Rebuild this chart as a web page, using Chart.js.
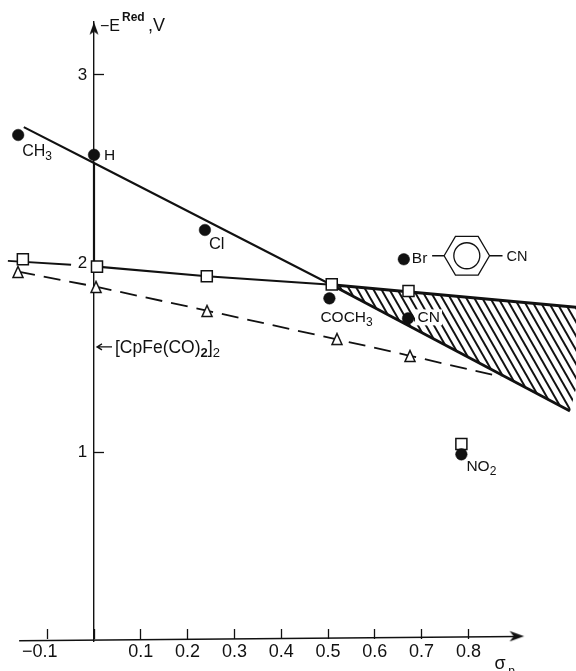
<!DOCTYPE html>
<html>
<head>
<meta charset="utf-8">
<style>html,body{margin:0;padding:0;background:#fff}canvas{display:block}</style>
<script src="https://cdn.jsdelivr.net/npm/chart.js@4/dist/chart.umd.min.js"></script>
</head>
<body>
<canvas id="c" width="576" height="671"></canvas>
<script>
// values (sigma_p, -E_red in volts)
const xTicks = [-0.1, 0, 0.1, 0.2, 0.3, 0.4, 0.5, 0.6, 0.7, 0.8];
const yTicks = [1, 2, 3];
const circleX = [-0.162, 0, 0.237, 0.503, 0.671, 0.662, 0.785];
const circleY = [2.682, 2.577, 2.179, 1.817, 1.711, 2.024, 0.991];
const squareX = [-0.152, 0.0064, 0.241, 0.508, 0.672, 0.785];
const squareY = [2.024, 1.985, 1.934, 1.891, 1.856, 1.046];
const triangleX = [-0.1624, 0.0043, 0.2415, 0.5192, 0.6752];
const triangleY = [1.9566, 1.8772, 1.7501, 1.6018, 1.5118];
const steepLineX = [-0.15, 0, 0.508];
const steepLineY = [2.724, 2.534, 1.888];
const lowerEdgeX = [0.508, 1.017];
const lowerEdgeY = [1.888, 1.221];
const hatchEdgeX = [0.508, 1.017, 1.03];
const hatchEdgeY = [1.888, 1.221, 1.34];
const flatStubX = [-0.184, -0.049];
const flatStubY = [2.016, 1.995];
const flatLineAX = [0.0064, 0.241, 0.508];
const flatLineAY = [1.985, 1.934, 1.889];
const upperEdgeX = [0.508, 1.03];
const upperEdgeY = [1.889, 1.77];
const dashX = [-0.162, 0.004, 0.241, 0.519, 0.675, 0.87];
const dashY = [1.958, 1.879, 1.752, 1.600, 1.513, 1.402];
const xAxisLineX = [-0.16, 0.905];
const xAxisLineY = [0.004, 0.026];
const yAxisBoldX = [0, 0];
const yAxisBoldY = [2.0, 2.534];
const yArrowX = [0];
const yArrowY = [3.245];
const xArrowX = [0.903];
const xArrowY = [0.028];

const zip = (xs, ys) => xs.map((x, i) => ({x, y: ys[i]}));
const INK = '#111';

function hatchPattern() {
  const w = 8, h = 14;
  const t = document.createElement('canvas');
  t.width = w; t.height = h;
  const g = t.getContext('2d');
  g.fillStyle = '#fff'; g.fillRect(0, 0, w, h);
  g.strokeStyle = INK; g.lineWidth = 1.9; g.lineCap = 'square';
  for (const k of [-1, 0, 1]) {
    g.beginPath(); g.moveTo(k * w, 0); g.lineTo(k * w + w, h); g.stroke();
  }
  return g.createPattern(t, 'repeat');
}

function glyph(w, h, draw) {
  const t = document.createElement('canvas');
  t.width = w; t.height = h;
  draw(t.getContext('2d'));
  return t;
}
const triangleGlyph = glyph(14, 14, g => {
  g.fillStyle = '#fff'; g.strokeStyle = INK; g.lineWidth = 1.5; g.lineJoin = 'miter';
  g.beginPath(); g.moveTo(7, 1.5); g.lineTo(12, 12.5); g.lineTo(2, 12.5); g.closePath();
  g.fill(); g.stroke();
});
const arrowUpGlyph = glyph(12, 14, g => {
  g.fillStyle = INK;
  g.beginPath(); g.moveTo(6, 0.5); g.lineTo(10.5, 13); g.lineTo(6, 10); g.lineTo(1.5, 13); g.closePath(); g.fill();
});
const arrowRightGlyph = glyph(16, 12, g => {
  g.fillStyle = INK;
  g.beginPath(); g.moveTo(15.5, 6); g.lineTo(1, 0.8); g.lineTo(5, 6); g.lineTo(1, 11.2); g.closePath(); g.fill();
});

const lineDs = (data, width, extra) => Object.assign({
  data, borderColor: INK, borderWidth: width, pointRadius: 0, tension: 0,
  fill: false, clip: false, borderCapStyle: 'butt', borderJoinStyle: 'round'
}, extra || {});
const markDs = (data, style, radius, fillColor, width, extra) => Object.assign({
  data, showLine: false, pointStyle: style, pointRadius: radius,
  pointBackgroundColor: fillColor, pointBorderColor: INK, pointBorderWidth: width, clip: false
}, extra || {});

const datasets = [
  markDs(zip(circleX, circleY), 'circle', 5.8, INK, 0.5),              // 0
  markDs(zip(squareX, squareY), 'rect', 7.8, '#fff', 1.5),             // 1
  markDs(zip(triangleX, triangleY), triangleGlyph, 7, '#fff', 1.5),    // 2
  lineDs(zip(steepLineX, steepLineY), 2.1),                            // 3
  lineDs(zip(lowerEdgeX, lowerEdgeY), 2.8),                            // 4
  lineDs(zip(flatStubX, flatStubY), 1.8),                              // 5
  lineDs(zip(flatLineAX, flatLineAY), 2.1),                            // 6
  lineDs(zip(upperEdgeX, upperEdgeY), 2.8),                            // 7
  lineDs(zip(dashX, dashY), 1.8, {borderDash: [17, 9]}),               // 8
  lineDs(zip(xAxisLineX, xAxisLineY), 1.5),                            // 9
  lineDs(zip(yAxisBoldX, yAxisBoldY), 2.2),                            // 10
  markDs(zip(yArrowX, yArrowY), arrowUpGlyph, 6, INK, 0),              // 11
  markDs(zip(xArrowX, xArrowY), arrowRightGlyph, 6, INK, 0),           // 12
  lineDs(zip(hatchEdgeX, hatchEdgeY), 0, {fill: 7, backgroundColor: hatchPattern()}) // 13
];

const FONT = '"Liberation Sans", Arial, sans-serif';

function runs(ctx, x, y, parts) {
  // parts: [text, size, baseline shift, weight]
  ctx.textAlign = 'left'; ctx.textBaseline = 'alphabetic';
  let cx = x;
  for (const [s, size, shift, weight] of parts) {
    ctx.font = (weight || '') + ' ' + size + 'px ' + FONT;
    ctx.fillText(s, cx, y + (shift || 0));
    cx += ctx.measureText(s).width;
  }
}

const notes = {
  id: 'notes',
  afterDatasetsDraw(chart) {
    const {ctx, scales: {x: sx, y: sy}} = chart;
    const px = v => sx.getPixelForValue(v), py = v => sy.getPixelForValue(v);
    ctx.save();
    ctx.fillStyle = INK; ctx.strokeStyle = INK;

    // axis title
    runs(ctx, px(0) + 6, py(3.232), [['\u2212E', 16]]);
    runs(ctx, px(0) + 28, py(3.285), [['Red', 12, 0, 'bold']]);
    runs(ctx, px(0) + 54, py(3.232), [[',V', 18]]);

    // substituent labels, placed relative to their points
    runs(ctx, px(circleX[0]) + 4, py(circleY[0]) + 21, [['CH', 16], ['3', 12, 4]]);
    runs(ctx, px(circleX[1]) + 10, py(circleY[1]) + 5.5, [['H', 15.5]]);
    runs(ctx, px(circleX[2]) + 4, py(circleY[2]) + 19, [['Cl', 16.5]]);
    runs(ctx, px(circleX[3]) - 9, py(circleY[3]) + 24, [['COCH', 15.5], ['3', 12, 4]]);
    ctx.fillStyle = '#fff'; ctx.fillRect(px(circleX[4]) + 7, py(circleY[4]) - 9, 27, 16);
    ctx.fillStyle = INK;
    runs(ctx, px(circleX[4]) + 9.5, py(circleY[4]) + 4, [['CN', 15.5]]);
    runs(ctx, px(circleX[5]) + 8, py(circleY[5]) + 4, [['Br', 15.5]]);
    runs(ctx, px(circleX[6]) + 5, py(circleY[6]) + 17, [['NO', 15.5], ['2', 12, 4]]);

    // 4-cyanophenyl sketch beside Br
    const cx = px(circleX[5]) + 63, cy = py(circleY[5]) - 3.5, rx = 22.7, ry = 19.3;
    ctx.lineWidth = 1.3;
    ctx.beginPath();
    ctx.moveTo(cx - rx, cy); ctx.lineTo(cx - rx / 2, cy - ry); ctx.lineTo(cx + rx / 2, cy - ry);
    ctx.lineTo(cx + rx, cy); ctx.lineTo(cx + rx / 2, cy + ry); ctx.lineTo(cx - rx / 2, cy + ry);
    ctx.closePath();
    ctx.moveTo(cx - rx - 12, cy); ctx.lineTo(cx - rx, cy);
    ctx.moveTo(cx + rx, cy); ctx.lineTo(cx + rx + 13, cy);
    ctx.stroke();
    ctx.beginPath(); ctx.arc(cx, cy, 13, 0, Math.PI * 2); ctx.stroke();
    runs(ctx, cx + rx + 17, cy + 5.5, [['CN', 14.5]]);

    // dimer label with arrow to the axis
    const ly = py(1.56);
    ctx.lineWidth = 1.3;
    ctx.beginPath();
    ctx.moveTo(px(0) + 3, ly); ctx.lineTo(px(0) + 18, ly);
    ctx.moveTo(px(0) + 8, ly - 3); ctx.lineTo(px(0) + 3, ly); ctx.lineTo(px(0) + 8, ly + 3);
    ctx.stroke();
    runs(ctx, px(0) + 21, ly + 6.5, [['[CpFe(CO)', 17.5], ['2', 13, 4, 'bold'], [']', 18], ['2', 13, 4]]);

    // x axis title (cut by the page edge, as in the source)
    runs(ctx, px(0.856), py(0) + 27.5, [['\u03C3', 18]]);
    runs(ctx, px(0.885), py(0) + 33, [['p', 12]]);
    ctx.restore();
  }
};

const flatten = s => { s.paddingLeft = s.paddingRight = s.paddingTop = s.paddingBottom = 0; };

new Chart(document.getElementById('c'), {
  type: 'line',
  data: {datasets},
  plugins: [notes],
  options: {
    responsive: false,
    animation: false,
    layout: {autoPadding: false, padding: {top: 22, bottom: 29.5, left: 0, right: 0}},
    plugins: {legend: {display: false}, tooltip: {enabled: false}, title: {display: false}},
    elements: {line: {tension: 0}},
    scales: {
      x: {
        type: 'linear',
        position: {y: 0.013},
        min: -94 / 468,
        max: 482 / 468,
        afterBuildTicks: s => { s.ticks = xTicks.map(value => ({value})); },
        afterFit: s => { s.height = 0; flatten(s); },
        border: {display: false},
        grid: {drawOnChartArea: false, drawTicks: true, tickLength: -10, tickColor: INK, tickWidth: 1.3},
        ticks: {
          autoSkip: false, maxRotation: 0, padding: 12, color: INK,
          font: {family: FONT, size: 18},
          callback: v => v === 0 ? '' : (v < 0 ? '\u2212' + Math.abs(v).toFixed(1) + '   ' : v.toFixed(1))
        }
      },
      y: {
        type: 'linear',
        position: {x: 0},
        min: 0,
        max: (641.5 - 22) / 188.85,
        afterBuildTicks: s => { s.ticks = yTicks.map(value => ({value})); },
        afterFit: s => { s.width = 0; flatten(s); },
        border: {display: true, color: INK, width: 1.4},
        grid: {
          drawOnChartArea: false, drawTicks: true, tickLength: -11, tickWidth: 1.3,
          tickColor: c => c.tick && c.tick.value === 2 ? 'rgba(0,0,0,0)' : INK
        },
        ticks: {
          autoSkip: false, padding: 0, color: INK,
          font: {family: FONT, size: 17},
          callback: v => v + '\u2009\u2009'
        }
      }
    }
  }
});
</script>
</body>
</html>
